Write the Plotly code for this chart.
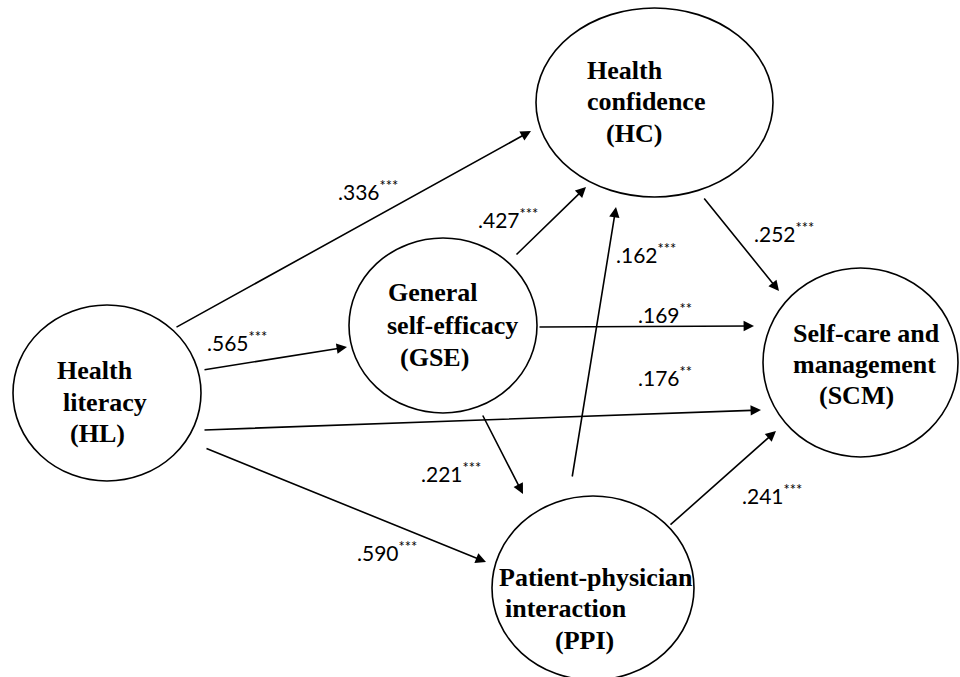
import plotly.graph_objects as go

# ---- data ----
node_ids = ["HC", "GSE", "HL", "SCM", "PPI"]
node_lines = {
    "HC": ["Health", "confidence", "(HC)"],
    "GSE": ["General", "self-efficacy", "(GSE)"],
    "HL": ["Health", "literacy", "(HL)"],
    "SCM": ["Self-care and", "management", "(SCM)"],
    "PPI": ["Patient-physician", "interaction", "(PPI)"],
}
path_from = ["HL", "HL", "HL", "HL", "GSE", "PPI", "GSE", "GSE", "HC", "PPI"]
path_to   = ["HC", "GSE", "SCM", "PPI", "HC", "HC", "PPI", "SCM", "SCM", "SCM"]
coefs     = [".336", ".565", ".176", ".590", ".427", ".162", ".221", ".169", ".252", ".241"]
sig       = ["***", "***", "**", "***", "***", "***", "***", "**", "***", "***"]

# ---- layout geometry (pixel space) ----
ellipses = {  # x0, y0, x1, y1
    "HC": (536, 8, 773, 197),
    "GSE": (349, 238, 537, 413),
    "HL": (13, 305, 201, 481),
    "SCM": (763, 268, 958, 457),
    "PPI": (492, 496, 694, 680),
}
line_pos = {  # left x, center y of each text line
    "HC": [(585, 70), (585, 101), (604, 133)],
    "GSE": [(386, 292), (385, 325), (398, 357)],
    "HL": [(55, 370), (61, 402), (68, 433)],
    "SCM": [(791, 333), (791, 364), (817, 395)],
    "PPI": [(497, 577), (503, 608), (553, 640)],
}
arrow_geom = [  # (start x, start y, tip x, tip y)
    (175, 328, 531, 131),
    (203, 370, 347, 347),
    (203, 430, 761, 410),
    (205, 448, 486, 562),
    (515, 256, 586, 187),
    (572, 478, 616, 207),
    (482, 414, 523, 494),
    (538, 327, 754, 326),
    (703, 197, 779, 291),
    (669, 526, 776, 431),
]
label_pos = [  # left x, center y
    (336, 190), (205, 341), (636, 376), (355, 551), (476, 218),
    (614, 253), (419, 472), (636, 313), (752, 232), (740, 494),
]

fig = go.Figure()
shapes = []
for nid in node_ids:
    x0, y0, x1, y1 = ellipses[nid]
    shapes.append(dict(type="circle", xref="x", yref="y", x0=x0, y0=y0, x1=x1, y1=y1,
                       line=dict(color="black", width=1.6), fillcolor="rgba(0,0,0,0)"))

annotations = []
for nid in node_ids:
    for txt, (lx, ly) in zip(node_lines[nid], line_pos[nid]):
        annotations.append(dict(x=lx, y=ly, xref="x", yref="y", text="<b>%s</b>" % txt,
                                showarrow=False, xanchor="left", yanchor="middle",
                                font=dict(family="Liberation Serif", size=26, color="black")))

for (sx, sy, tx, ty) in arrow_geom:
    annotations.append(dict(x=tx, y=ty, ax=sx, ay=sy, xref="x", yref="y", axref="x", ayref="y",
                            text="", showarrow=True, arrowhead=2, arrowsize=1.3, arrowwidth=1.6,
                            arrowcolor="black", standoff=0, startstandoff=0))

for c, s, (lx, ly) in zip(coefs, sig, label_pos):
    annotations.append(dict(x=lx, y=ly, xref="x", yref="y", text="%s<sup>%s</sup>" % (c, s),
                            showarrow=False, xanchor="left", yanchor="middle",
                            font=dict(family="Lato", size=21, color="black")))

fig.update_layout(
    width=960, height=677, autosize=False,
    margin=dict(l=0, r=0, t=0, b=0),
    paper_bgcolor="white", plot_bgcolor="white",
    xaxis=dict(range=[0, 960], visible=False, fixedrange=True),
    yaxis=dict(range=[677, 0], visible=False, fixedrange=True),
    shapes=shapes, annotations=annotations, showlegend=False,
)
fig.write_html("out.html", config={"displayModeBar": False},
               post_script="document.body.style.margin='0';document.body.style.overflow='hidden';")
